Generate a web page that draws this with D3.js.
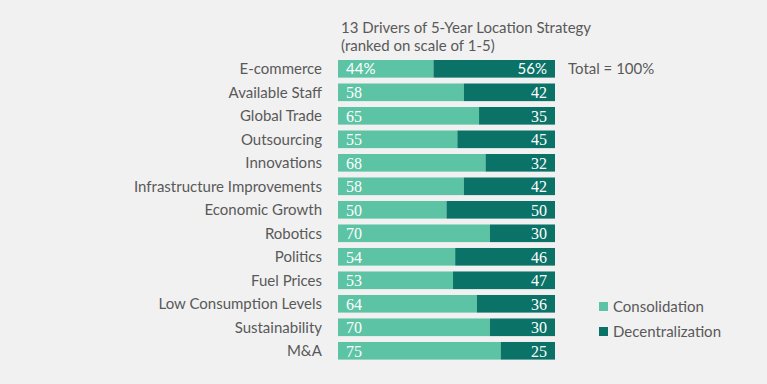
<!DOCTYPE html>
<html>
<head>
<meta charset="utf-8">
<script src="https://cdn.jsdelivr.net/npm/d3@7"></script>
<style>
  html, body { margin: 0; padding: 0; background: #f1f1f1; }
  svg { display: block; }
</style>
</head>
<body>
<div id="chart"></div>
<script>
const categories = [
  'E-commerce', 'Available Staff', 'Global Trade', 'Outsourcing', 'Innovations',
  'Infrastructure Improvements', 'Economic Growth', 'Robotics', 'Politics',
  'Fuel Prices', 'Low Consumption Levels', 'Sustainability', 'M&A'
];
const consolidation = [44, 58, 65, 55, 68, 58, 50, 70, 54, 53, 64, 70, 75];
const decentralization = [56, 42, 35, 45, 32, 42, 50, 30, 46, 47, 36, 30, 25];
const seriesNames = ['Consolidation', 'Decentralization'];
const titleLines = ['13 Drivers of 5-Year Location Strategy', '(ranked on scale of 1-5)'];
const totalNote = 'Total = 100%';

const COLORS = ['#5cc3a4', '#0b7268'];
const TEXT = '#595959';
const SANS = 'Lato, "Open Sans", sans-serif';
const SERIF = '"Liberation Serif", "Times New Roman", serif';

const width = 767;
const height = 384;

const svg = d3.select('#chart')
  .append('svg')
  .attr('width', width)
  .attr('height', height);

svg.append('rect')
  .attr('width', width)
  .attr('height', height)
  .attr('fill', '#f1f1f1');

const x = d3.scaleLinear().domain([0, 100]).range([338, 555]);
const y = d3.scaleBand()
  .domain(categories)
  .range([60, 359.6])
  .paddingInner(0.25)
  .paddingOuter(0);

const rows = categories.map((c, i) => ({
  name: c,
  a: consolidation[i],
  b: decentralization[i],
  pct: i === 0
}));

// title
svg.append('g')
  .selectAll('text')
  .data(titleLines)
  .join('text')
  .attr('x', 341)
  .attr('y', (d, i) => 33 + i * 18)
  .attr('fill', TEXT)
  .attr('font-family', SANS)
  .attr('font-size', 15)
  .text(d => d);

// category labels
svg.append('g')
  .selectAll('text')
  .data(rows)
  .join('text')
  .attr('x', 322)
  .attr('y', d => y(d.name) + y.bandwidth() / 2)
  .attr('dy', '0.36em')
  .attr('text-anchor', 'end')
  .attr('fill', TEXT)
  .attr('font-family', SANS)
  .attr('font-size', 15)
  .text(d => d.name);

const bars = svg.append('g')
  .selectAll('g')
  .data(rows)
  .join('g')
  .attr('transform', d => `translate(0,${y(d.name)})`);

bars.append('rect')
  .attr('x', x(0))
  .attr('width', d => x(d.a) - x(0))
  .attr('height', y.bandwidth())
  .attr('fill', COLORS[0]);

bars.append('rect')
  .attr('x', d => x(d.a))
  .attr('width', d => x(d.a + d.b) - x(d.a))
  .attr('height', y.bandwidth())
  .attr('fill', COLORS[1]);

bars.append('text')
  .attr('x', x(0) + 8)
  .attr('y', y.bandwidth() / 2)
  .attr('dy', '0.36em')
  .attr('fill', '#fff')
  .attr('font-family', d => d.pct ? SANS : SERIF)
  .attr('font-size', d => d.pct ? 15 : 16)
  .text(d => d.pct ? d.a + '%' : d.a);

bars.append('text')
  .attr('x', x(100) - 8)
  .attr('y', y.bandwidth() / 2)
  .attr('dy', '0.36em')
  .attr('text-anchor', 'end')
  .attr('fill', '#fff')
  .attr('font-family', d => d.pct ? SANS : SERIF)
  .attr('font-size', d => d.pct ? 15 : 16)
  .text(d => d.pct ? d.b + '%' : d.b);

svg.append('text')
  .attr('x', 568)
  .attr('y', y(categories[0]) + y.bandwidth() / 2)
  .attr('dy', '0.36em')
  .attr('fill', TEXT)
  .attr('font-family', SANS)
  .attr('font-size', 15)
  .text(totalNote);

// legend
const legend = svg.append('g')
  .selectAll('g')
  .data(seriesNames)
  .join('g')
  .attr('transform', (d, i) => `translate(599,${302 + i * 25})`);

legend.append('rect')
  .attr('width', 9)
  .attr('height', 9)
  .attr('fill', (d, i) => COLORS[i]);

legend.append('text')
  .attr('x', 14)
  .attr('y', 4.5)
  .attr('dy', '0.36em')
  .attr('fill', TEXT)
  .attr('font-family', SANS)
  .attr('font-size', 15)
  .text(d => d);
</script>
</body>
</html>
